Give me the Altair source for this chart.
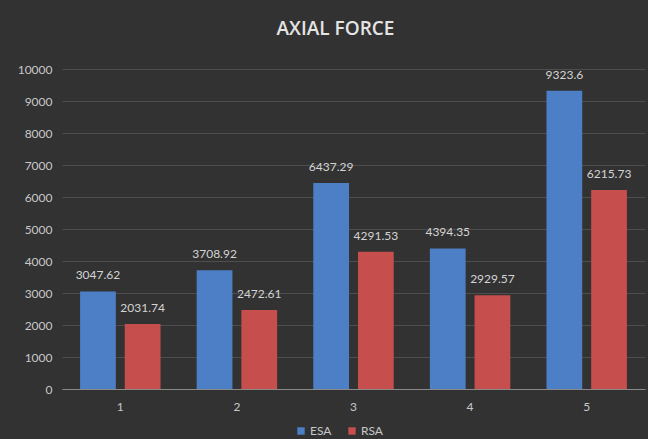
import altair as alt
import pandas as pd

categories = ["1", "2", "3", "4", "5"]
series = ["ESA", "RSA"]
esa = [3047.62, 3708.92, 6437.29, 4394.35, 9323.6]
rsa = [2031.74, 2472.61, 4291.53, 2929.57, 6215.73]
colors = ["#4d7fc6", "#c64e4d"]
y_ticks = [0, 1000, 2000, 3000, 4000, 5000, 6000, 7000, 8000, 9000, 10000]

rows = []
for i, c in enumerate(categories):
    rows.append({"cat": c, "series": "ESA", "value": esa[i], "label": f"{esa[i]:g}"})
    rows.append({"cat": c, "series": "RSA", "value": rsa[i], "label": f"{rsa[i]:g}"})
df = pd.DataFrame(rows)

FONT = "Lato"
LABEL_COLOR = "#c8c8c8"

x = alt.X(
    "cat:N",
    sort=categories,
    scale=alt.Scale(paddingInner=0.31, paddingOuter=0.155),
    axis=alt.Axis(
        title=None, labelAngle=0, ticks=False, domain=True,
        domainColor="#8a8a8a", domainWidth=1,
        labelColor=LABEL_COLOR, labelFontSize=12, labelFont=FONT,
        labelPadding=12, grid=False,
    ),
)
xoff = alt.XOffset("series:N", sort=series, scale=alt.Scale(paddingInner=0.2, paddingOuter=0))
y = alt.Y(
    "value:Q",
    scale=alt.Scale(domain=[0, 10000], nice=False),
    axis=alt.Axis(
        title=None, values=y_ticks, tickCount=20, format="d", labelOverlap=False,
        ticks=False, domain=False,
        grid=True, gridColor="#4e4e4e", gridWidth=1,
        labelColor=LABEL_COLOR, labelFontSize=12, labelFont=FONT,
        labelPadding=10,
    ),
)

base = alt.Chart(df)

bars = base.mark_bar(strokeWidth=0).encode(
    x=x,
    xOffset=xoff,
    y=y,
    color=alt.Color(
        "series:N",
        sort=series,
        scale=alt.Scale(domain=series, range=colors),
        legend=alt.Legend(
            title=None, orient="none", legendX=233, legendY=356,
            direction="horizontal", symbolType="square", symbolSize=55,
            symbolStrokeWidth=0, labelColor=LABEL_COLOR, labelFontSize=12,
            labelFont=FONT, columnPadding=14, labelOffset=3,
        ),
    ),
)

texts = base.mark_text(
    baseline="alphabetic", dy=-12, fontSize=12, font=FONT, color="#d4d4d4"
).encode(
    x=x,
    xOffset=xoff,
    y=y,
    text="label:N",
)

chart = (
    alt.layer(bars, texts)
    .properties(
        width=583,
        height=320,
        autosize=alt.AutoSizeParams(type="none"),
        padding={"left": 62, "top": 69, "right": 3, "bottom": 50},
        background="#323232",
        title=alt.TitleParams(
            text="AXIAL FORCE", fontSize=19, font="Open Sans", fontWeight=600,
            color="#e4e4e4", anchor="middle", offset=24, dx=-18,
        ),
    )
    .configure_view(stroke=None)
)

chart.save("out.html", embed_options={"renderer": "svg", "actions": False})
